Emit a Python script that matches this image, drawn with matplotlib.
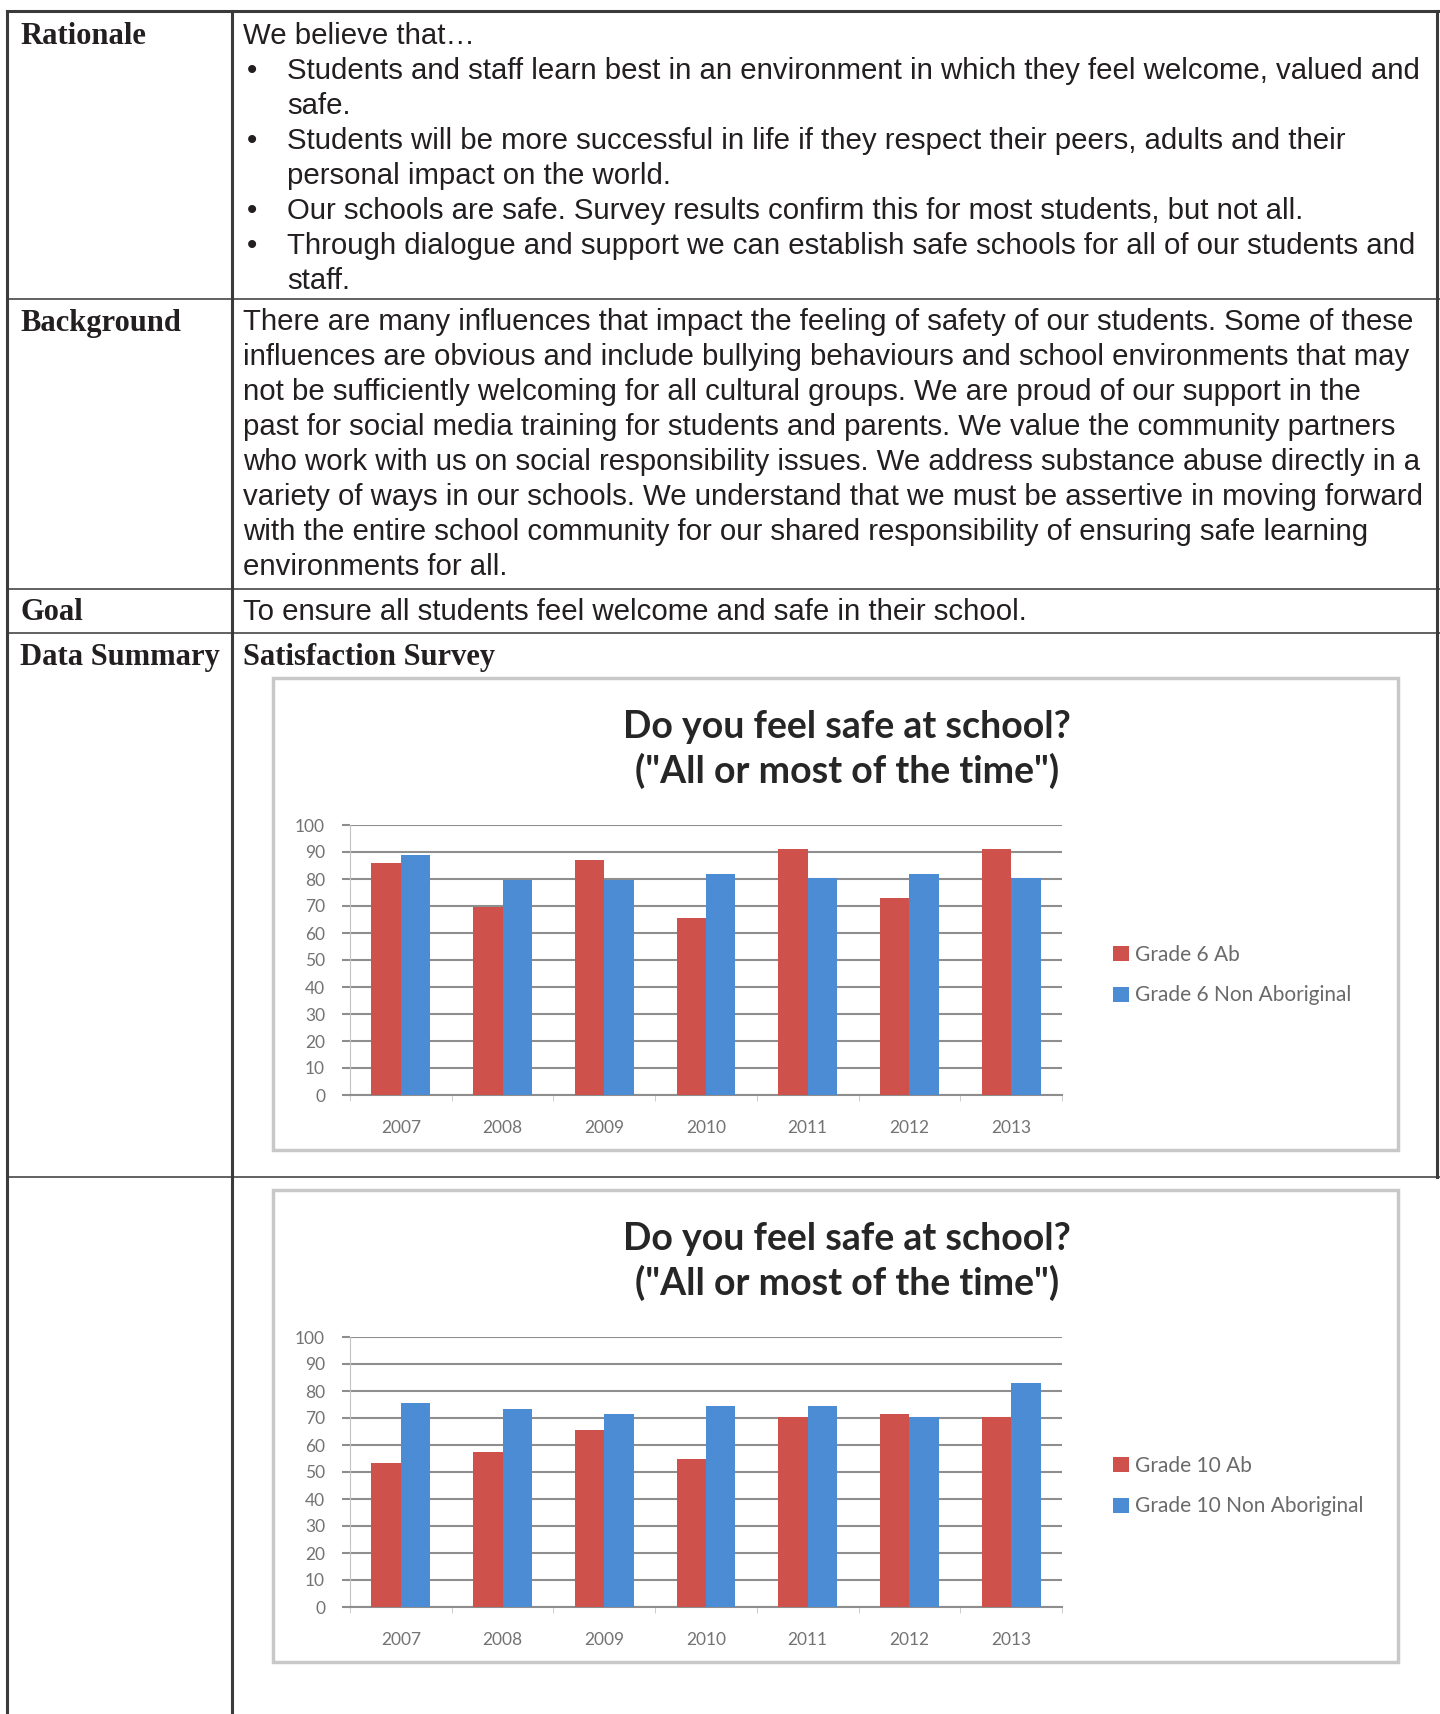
import matplotlib.pyplot as plt
from matplotlib.patches import Rectangle
import numpy as np

# survey data
years = ['2007', '2008', '2009', '2010', '2011', '2012', '2013']
g6_ab = [86, 69.5, 87, 65.5, 91, 73, 91]
g6_non = [89, 79.5, 79.5, 82, 80.5, 82, 80.5]
g10_ab = [53.5, 57.5, 65.5, 55, 70.5, 71.5, 70.5]
g10_non = [75.5, 73.5, 71.5, 74.5, 74.5, 70.5, 83]

labels = ['Rationale', 'Background', 'Goal', 'Data Summary']
rationale = ['We believe that…',
             ('•', 'Students and staff learn best in an environment in which they feel welcome, valued and'),
             ('', 'safe.'),
             ('•', 'Students will be more successful in life if they respect their peers, adults and their'),
             ('', 'personal impact on the world.'),
             ('•', 'Our schools are safe. Survey results confirm this for most students, but not all.'),
             ('•', 'Through dialogue and support we can establish safe schools for all of our students and'),
             ('', 'staff.')]
background = ['There are many influences that impact the feeling of safety of our students. Some of these',
              'influences are obvious and include bullying behaviours and school environments that may',
              'not be sufficiently welcoming for all cultural groups. We are proud of our support in the',
              'past for social media training for students and parents. We value the community partners',
              'who work with us on social responsibility issues. We address substance abuse directly in a',
              'variety of ways in our schools. We understand that we must be assertive in moving forward',
              'with the entire school community for our shared responsibility of ensuring safe learning',
              'environments for all.']
goal = 'To ensure all students feel welcome and safe in their school.'
chart_title = ['Do you feel safe at school?', '("All or most of the time")']

W, H = 1440, 1714
RED = '#cf514c'
BLUE = '#4b8cd5'
GRID = '#8e8e8e'

fig = plt.figure(figsize=(W / 100, H / 100), dpi=100)
page = fig.add_axes([0, 0, 1, 1])
page.set_xlim(0, W)
page.set_ylim(H, 0)
page.axis('off')

# table grid
line_c = '#3a3a3a'
page.plot([7, 1438], [11, 11], color=line_c, lw=2.2)
for y in [299, 589, 633, 1177]:
    page.plot([7, 1440], [y, y], color='#555555', lw=1.3)
page.plot([7, 7], [11, H], color=line_c, lw=2.2)
page.plot([232, 232], [11, H], color=line_c, lw=2.2)
page.plot([1437, 1437], [11, 1177], color=line_c, lw=2.2)

lab_font = dict(family='Liberation Serif', fontweight='bold', fontsize=22, color='#231f20', va='center')
body_font = dict(family='Liberation Sans', fontsize=21.2, color='#231f20', va='center')

for lab, y in zip(labels, [36, 323, 612, 657]):
    page.text(20, y, lab, **lab_font)

y = 36
for item in rationale:
    if isinstance(item, str):
        page.text(243, y, item, **body_font)
    else:
        bullet, txt = item
        if bullet:
            page.text(252, y, bullet, ha='center', **body_font)
        page.text(287, y, txt, **body_font)
    y += 35

for i, line in enumerate(background):
    page.text(243, 322 + 35 * i, line, **body_font)

page.text(243, 612, goal, **body_font)
page.text(243, 657, 'Satisfaction Survey', **lab_font)


def px_rect(x0, y0, x1, y1):
    return [x0 / W, 1 - y1 / H, (x1 - x0) / W, (y1 - y0) / H]


def draw_chart(top, ab, non, names, legend_y):
    # chart frame
    page.add_patch(Rectangle((273, top), 1125, 472, facecolor='white',
                             edgecolor='#c8c8c8', lw=2.5))
    page.text(847, top + 49, chart_title[0], ha='center', va='center',
              family='Lato', fontweight='bold', fontsize=27, color='#262626')
    page.text(847, top + 93, chart_title[1], ha='center', va='center',
              family='Lato', fontweight='bold', fontsize=27, color='#262626')

    ax = fig.add_axes(px_rect(350, top + 147, 1062, top + 417))
    ax.set_facecolor('none')
    x = np.arange(len(years))
    w = 0.29
    b1 = ax.bar(x - w / 2, ab, w, color=RED, zorder=3)
    b2 = ax.bar(x + w / 2, non, w, color=BLUE, zorder=3)
    ax.set_xlim(-0.5, 6.5)
    ax.set_ylim(0, 100)
    ax.set_yticks(range(0, 101, 10))
    ax.yaxis.grid(True, color=GRID, lw=1.5)
    ax.set_axisbelow(True)
    for s in ['top', 'right']:
        ax.spines[s].set_visible(False)
    ax.spines['left'].set_color('#c4c4c4')
    ax.spines['bottom'].set_color(GRID)
    ax.spines['bottom'].set_linewidth(1.5)
    ax.set_xticks(x)
    ax.set_xticklabels(years)
    ax.set_xticks(np.arange(-0.5, 7, 1), minor=True)
    ax.tick_params(axis='y', length=6, width=1.5, color=GRID, labelsize=12.5,
                   labelcolor='#737373', pad=12)
    ax.tick_params(axis='x', which='major', length=0, labelsize=12.5,
                   labelcolor='#737373', pad=18)
    ax.tick_params(axis='x', which='minor', length=4, color='#c4c4c4')
    for t in ax.get_xticklabels() + ax.get_yticklabels():
        t.set_family('Lato')

    ax.legend([b1, b2], names, loc='center left', bbox_to_anchor=(1103, legend_y),
              bbox_transform=page.transData, frameon=False,
              prop=dict(family='Lato', size=15), labelcolor='#6a6a6a',
              handlelength=0.75, handleheight=0.75, handletextpad=0.3,
              labelspacing=1.0, borderpad=0)


draw_chart(678, g6_ab, g6_non, ['Grade 6 Ab', 'Grade 6 Non Aboriginal'], 975)
draw_chart(1190, g10_ab, g10_non, ['Grade 10 Ab', 'Grade 10 Non Aboriginal'], 1486)

fig.savefig('out.png', dpi=100)
